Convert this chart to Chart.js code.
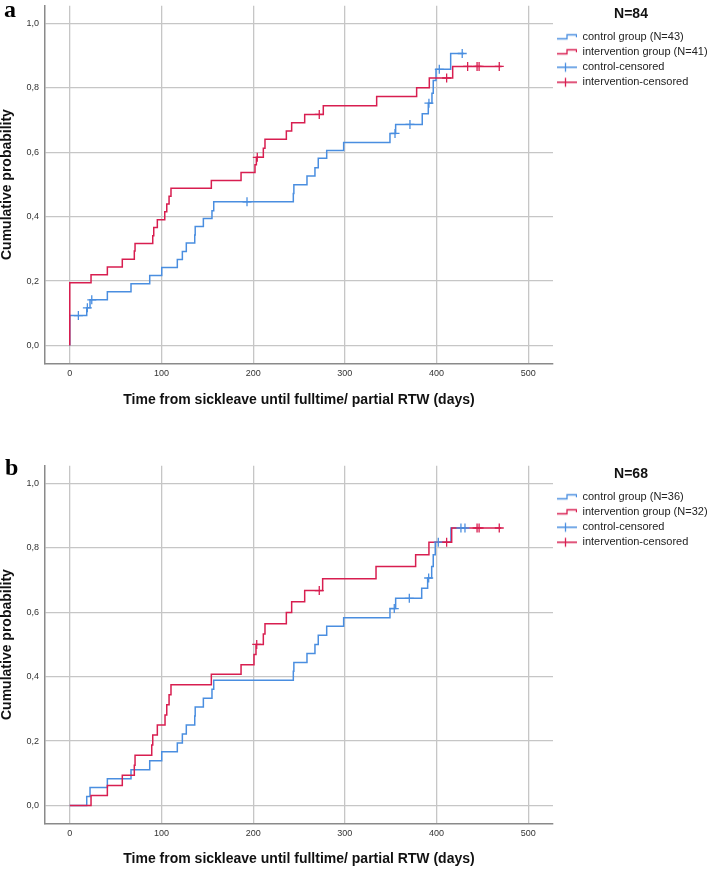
<!DOCTYPE html>
<html>
<head>
<meta charset="utf-8">
<script src="https://cdn.jsdelivr.net/npm/chart.js@4/dist/chart.umd.min.js"></script>
<style>
  html, body { margin: 0; padding: 0; background: #fff; }
  body { width: 709px; height: 869px; position: relative; overflow: hidden; }
  .panel { position: absolute; left: 0; width: 709px; }
  .tag { position: absolute; left: 4px; font: bold 24px/24px "Liberation Serif", "Times New Roman", serif; color: #000; }
</style>
</head>
<body>
<div class="panel" style="top:0"><canvas id="grafico-a" width="709" height="410"></canvas></div>
<div class="panel" style="top:460px"><canvas id="grafico-b" width="709" height="409"></canvas></div>
<div class="tag" style="top:-3px">a</div>
<div class="tag" style="top:455px;left:5px">b</div>
<script>
// valores: días desde la baja, probabilidad acumulada
const ticksX = [0, 100, 200, 300, 400, 500];
const ticksY = [0, 0.2, 0.4, 0.6, 0.8, 1.0];

// panel a (N=84)
const controlDiasA = [0, 0, 18.5, 22.1, 41.0, 66.8, 87.2, 100.3, 117.3, 122.8, 127.1, 136.3, 136.8, 145.7, 155.1, 157.0, 243.8, 244.4, 258.7, 267.4, 271.0, 280.2, 298.7, 349.2, 355.4, 384.4, 391.0, 395.0, 396.4, 399.4, 415.4, 429.9];
const controlProbA = [0, 0.093, 0.117, 0.142, 0.167, 0.192, 0.217, 0.242, 0.267, 0.292, 0.318, 0.343, 0.369, 0.394, 0.418, 0.446, 0.472, 0.499, 0.526, 0.552, 0.581, 0.605, 0.630, 0.658, 0.686, 0.719, 0.752, 0.783, 0.822, 0.857, 0.906, 0.906];
const intervDiasA = [0, 0, 23.2, 41.0, 57.3, 70.4, 71.2, 90.5, 91.6, 95.5, 103.6, 105.8, 108.3, 110.4, 154.4, 186.8, 202.0, 203.5, 211.1, 212.9, 236.2, 242.0, 256.2, 276.5, 334.7, 378.3, 392.1, 417.6, 471.0];
const intervProbA = [0, 0.195, 0.220, 0.244, 0.268, 0.293, 0.317, 0.341, 0.366, 0.390, 0.415, 0.439, 0.463, 0.488, 0.512, 0.537, 0.561, 0.584, 0.612, 0.640, 0.666, 0.691, 0.717, 0.744, 0.773, 0.800, 0.830, 0.866, 0.866];
const controlCensDiasA = [9.4, 19.2, 24.0, 193.3, 354.7, 371.0, 391.7, 403.0, 428.0];
const controlCensProbA = [0.093, 0.117, 0.142, 0.446, 0.658, 0.686, 0.752, 0.857, 0.906];
const intervCensDiasA = [204.5, 272.1, 411.0, 433.9, 444.2, 446.4, 468.4];
const intervCensProbA = [0.584, 0.717, 0.830, 0.866, 0.866, 0.866, 0.866];

// panel b (N=68)
const controlDiasB = [0, 18.5, 22.1, 41.0, 66.8, 87.2, 100.3, 117.3, 122.8, 127.1, 136.3, 136.8, 145.7, 155.1, 157.0, 243.8, 244.4, 258.7, 267.4, 271.0, 280.2, 298.7, 349.2, 355.4, 383.8, 390.3, 394.7, 396.4, 398.6, 415.7, 432.8];
const controlProbB = [0, 0.028, 0.056, 0.083, 0.111, 0.139, 0.167, 0.194, 0.222, 0.25, 0.278, 0.306, 0.333, 0.361, 0.389, 0.417, 0.444, 0.472, 0.5, 0.528, 0.556, 0.583, 0.611, 0.643, 0.674, 0.706, 0.742, 0.778, 0.817, 0.861, 0.861];
const intervDiasB = [0, 23.2, 41.0, 57.3, 70.4, 71.2, 89.4, 90.5, 95.5, 103.9, 105.8, 108.3, 110.4, 154.4, 186.8, 200.9, 203.1, 211.1, 212.9, 236.2, 242.0, 256.2, 275.8, 334.0, 377.2, 391.7, 416.5, 470.5];
const intervProbB = [0, 0.031, 0.0625, 0.094, 0.125, 0.156, 0.188, 0.219, 0.25, 0.281, 0.313, 0.344, 0.375, 0.407, 0.437, 0.469, 0.5, 0.532, 0.564, 0.599, 0.632, 0.667, 0.704, 0.742, 0.778, 0.817, 0.861, 0.861];
const controlCensDiasB = [353.9, 370.3, 391.4, 401.9, 426.6, 431.0];
const controlCensProbB = [0.611, 0.643, 0.706, 0.817, 0.861, 0.861];
const intervCensDiasB = [203.9, 272.1, 411.0, 444.2, 446.4, 468.4];
const intervCensProbB = [0.5, 0.667, 0.817, 0.861, 0.861, 0.861];

const etiquetasA = ["control group (N=43)", "intervention group (N=41)", "control-censored", "intervention-censored"];
const etiquetasB = ["control group (N=36)", "intervention group (N=32)", "control-censored", "intervention-censored"];

const azul = "#4a8ee0";
const rojo = "#d81e50";

Chart.defaults.font.family = '"Liberation Sans", Arial, sans-serif';

function puntos(dias, prob) {
  return dias.map((d, i) => ({ x: d, y: prob[i] }));
}

// iconos de la leyenda (escalón y censura)
function iconoEscalon(color) {
  const c = document.createElement("canvas");
  c.width = 20;
  c.height = 12;
  const g = c.getContext("2d");
  g.strokeStyle = color;
  g.lineWidth = 1.3;
  g.beginPath();
  g.moveTo(0, 7.5);
  g.lineTo(10, 7.5);
  g.lineTo(10, 3.5);
  g.lineTo(19.5, 3.5);
  g.lineTo(19.5, 6);
  g.stroke();
  return c;
}

function iconoCensura(color) {
  const c = document.createElement("canvas");
  c.width = 20;
  c.height = 12;
  const g = c.getContext("2d");
  g.strokeStyle = color;
  g.lineWidth = 1.3;
  g.beginPath();
  g.moveTo(0, 6);
  g.lineTo(20, 6);
  g.moveTo(8.5, 1.5);
  g.lineTo(8.5, 10.5);
  g.stroke();
  return c;
}

function crearGrafico(id, titulo, etiquetas, series) {
  const canvas = document.getElementById(id);
  const altoEjeX = canvas.height - 363.3;

  return new Chart(canvas.getContext("2d"), {
    type: "line",
    data: {
      datasets: [
        {
          label: etiquetas[0],
          data: puntos(series[0], series[1]),
          borderColor: azul,
          borderWidth: 1.5,
          pointRadius: 0,
          stepped: true,
          fill: false,
          order: 4,
          icono: iconoEscalon(azul),
        },
        {
          label: etiquetas[1],
          data: puntos(series[2], series[3]),
          borderColor: rojo,
          borderWidth: 1.5,
          pointRadius: 0,
          stepped: true,
          fill: false,
          order: 3,
          icono: iconoEscalon(rojo),
        },
        {
          label: etiquetas[2],
          data: puntos(series[4], series[5]),
          showLine: false,
          borderColor: azul,
          pointStyle: "cross",
          pointRadius: 4.5,
          pointBorderColor: azul,
          pointBorderWidth: 1.3,
          order: 2,
          icono: iconoCensura(azul),
        },
        {
          label: etiquetas[3],
          data: puntos(series[6], series[7]),
          showLine: false,
          borderColor: rojo,
          pointStyle: "cross",
          pointRadius: 4.5,
          pointBorderColor: rojo,
          pointBorderWidth: 1.3,
          order: 1,
          icono: iconoCensura(rojo),
        },
      ],
    },
    options: {
      responsive: false,
      animation: false,
      layout: { padding: { top: 1, left: 0, right: 0, bottom: 0 } },
      scales: {
        x: {
          type: "linear",
          min: -27,
          max: 527,
          afterBuildTicks: (s) => {
            s.ticks = ticksX.map((v) => ({ value: v }));
          },
          afterFit: (s) => {
            s.height = altoEjeX;
            s.paddingLeft = 0;
            s.paddingRight = 0;
          },
          grid: { color: "#c6c6c6", lineWidth: 1.3, drawTicks: false },
          border: { color: "#8a8a8a", width: 1.5 },
          ticks: {
            padding: 5,
            color: "#333",
            font: { size: 9 },
            callback: (v) => String(v),
          },
          title: {
            display: true,
            text: "Time from sickleave until fulltime/ partial RTW (days)",
            color: "#111",
            font: { size: 14, weight: "bold", lineHeight: 1 },
            padding: { top: 0, bottom: 3 },
          },
        },
        y: {
          type: "linear",
          min: -0.055,
          max: 1.054,
          afterBuildTicks: (s) => {
            s.ticks = ticksY.map((v) => ({ value: v }));
          },
          afterFit: (s) => {
            s.width = 45;
            s.paddingTop = 0;
            s.paddingBottom = 0;
          },
          grid: { color: "#c6c6c6", lineWidth: 1.3, drawTicks: false },
          border: { color: "#8a8a8a", width: 1.5 },
          ticks: {
            padding: 6,
            color: "#333",
            font: { size: 9 },
            callback: (v) => v.toFixed(1).replace(".", ","),
          },
          title: {
            display: true,
            text: "Cumulative probability",
            color: "#111",
            font: { size: 14, weight: "bold", lineHeight: 1 },
            padding: { top: 0, bottom: 0 },
          },
        },
      },
      plugins: {
        tooltip: { enabled: false },
        legend: {
          position: "right",
          align: "start",
          maxWidth: 156,
          title: {
            display: true,
            text: titulo,
            color: "#111",
            font: { size: 14, weight: "bold" },
            padding: { top: 6, bottom: 4 },
          },
          labels: {
            usePointStyle: true,
            pointStyleWidth: 20,
            boxHeight: 11,
            padding: 4,
            color: "#222",
            font: { size: 11 },
            generateLabels: (chart) =>
              chart.data.datasets.map((ds, i) => ({
                text: ds.label,
                pointStyle: ds.icono,
                fillStyle: "transparent",
                strokeStyle: "transparent",
                lineWidth: 0,
                hidden: false,
                datasetIndex: i,
                fontColor: "#222",
              })),
          },
        },
      },
    },
  });
}

crearGrafico("grafico-a", "N=84", etiquetasA, [
  controlDiasA, controlProbA, intervDiasA, intervProbA,
  controlCensDiasA, controlCensProbA, intervCensDiasA, intervCensProbA,
]);

crearGrafico("grafico-b", "N=68", etiquetasB, [
  controlDiasB, controlProbB, intervDiasB, intervProbB,
  controlCensDiasB, controlCensProbB, intervCensDiasB, intervCensProbB,
]);
</script>
</body>
</html>
